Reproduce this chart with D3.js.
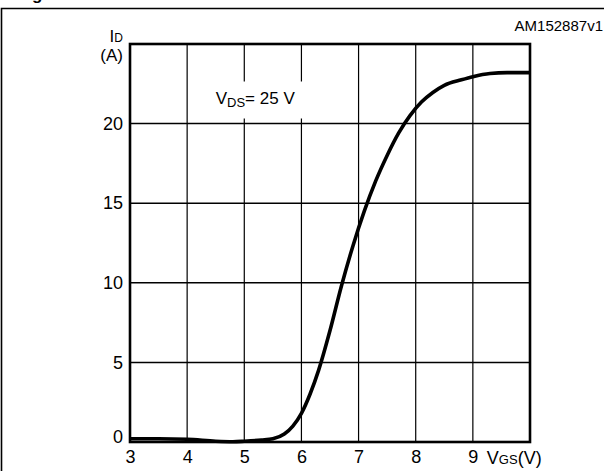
<!DOCTYPE html>
<html>
<head>
<meta charset="utf-8">
<script src="https://cdn.jsdelivr.net/npm/d3@7"></script>
<style>
  body { margin: 0; background: #fff; }
  svg { display: block; font-family: Arial, "Liberation Sans", sans-serif; }
</style>
</head>
<body>
<div id="chart"></div>
<script>

// transfer characteristic
var vgs = [3, 3.5, 4, 4.5, 4.8, 5.0, 5.3, 5.5, 5.7, 5.85, 6.0, 6.15, 6.3, 6.5, 6.7, 6.9, 7.1, 7.3, 7.5, 7.7, 7.9, 8.1, 8.3, 8.5, 8.8, 9.0, 9.3, 9.6, 10];
var id  = [0.2, 0.2, 0.17, 0.05, 0.02, 0.05, 0.12, 0.2, 0.5, 1.0, 1.8, 3.0, 4.5, 7.0, 9.8, 12.3, 14.5, 16.4, 18.0, 19.4, 20.5, 21.35, 21.95, 22.4, 22.75, 22.95, 23.15, 23.2, 23.2];

var xTicks = [3, 4, 5, 6, 7, 8, 9];
var yTicks = [0, 5, 10, 15, 20];
var xGrid = [4, 5, 6, 7, 8, 9];
var yGrid = [5, 10, 15, 20];

var W = 604, H = 471;
var margin = { top: 44, right: 74, bottom: 29, left: 130 },
	width = W - margin.left - margin.right,
	height = H - margin.top - margin.bottom;

var root = d3.select("#chart").append("svg")
	.attr("width", W)
	.attr("height", H);

// outer frame (runs off the right and bottom edge)
root.append("path")
	.attr("d", "M1.5," + (H + 5) + "V8.5H" + (W + 5))
	.attr("fill", "none")
	.attr("stroke", "#000")
	.attr("stroke-width", 1.6);

// clipped figure title, only the descender of the g shows
root.append("text")
	.attr("x", 17)
	.attr("y", -0.5)
	.style("font-weight", "bold")
	.style("font-size", "17px")
	.text("Figure 7. Transfer characteristics");

root.append("text")
	.attr("x", 603)
	.attr("y", 31)
	.attr("text-anchor", "end")
	.style("font-size", "15px")
	.text("AM152887v1");

var svg = root.append("g")
	.attr("transform", "translate(" + margin.left + "," + margin.top + ")");

var x = d3.scaleLinear().domain([3, 10]).range([0, width]);
var y = d3.scaleLinear().domain([0, 25]).range([height, 0]);

// grid
svg.selectAll(".vgrid").data(xGrid).enter().append("line")
	.attr("x1", function(d) { return x(d); })
	.attr("x2", function(d) { return x(d); })
	.attr("y1", 0).attr("y2", height)
	.attr("stroke", "#000").attr("stroke-width", 1.2);

svg.selectAll(".hgrid").data(yGrid).enter().append("line")
	.attr("y1", function(d) { return y(d); })
	.attr("y2", function(d) { return y(d); })
	.attr("x1", 0).attr("x2", width)
	.attr("stroke", "#000").attr("stroke-width", 1.5);

// condition note, on a white patch that hides the grid behind it
var note = svg.append("text")
	.attr("x", x(4.5))
	.attr("y", y(21.2))
	.style("font-size", "17px");
note.append("tspan").text("V");
note.append("tspan").style("font-size", "13px").attr("dy", 3).text("DS");
note.append("tspan").attr("dy", -3).text("= 25 V");

var bb = note.node().getBBox();
svg.insert("rect", "text")
	.attr("x", bb.x - 6)
	.attr("y", bb.y - 8)
	.attr("width", bb.width + 18)
	.attr("height", bb.height + 16)
	.attr("fill", "#fff");

// plot box
svg.append("rect")
	.attr("width", width).attr("height", height)
	.attr("fill", "none")
	.attr("stroke", "#000")
	.attr("stroke-width", 2.6);

// axes, labels only
var xAxis = svg.append("g")
	.attr("transform", "translate(0," + height + ")")
	.call(d3.axisBottom(x).tickValues(xTicks).tickSize(0).tickPadding(8).tickFormat(d3.format("d")));
xAxis.select(".domain").remove();
xAxis.selectAll("text").style("font-size", "18px").attr("font-family", null).attr("fill", "#000");

var yAxis = svg.append("g")
	.call(d3.axisLeft(y).tickValues(yTicks).tickSize(0).tickPadding(7).tickFormat(d3.format("d")));
yAxis.select(".domain").remove();
yAxis.selectAll("text").style("font-size", "18px").attr("font-family", null).attr("fill", "#000");
yAxis.selectAll(".tick").filter(function(d) { return d === 0; }).select("text").attr("dy", "0.05em");

// curve
var line = d3.line()
	.x(function(d, i) { return x(vgs[i]); })
	.y(function(d) { return y(d); })
	.curve(d3.curveMonotoneX);

svg.append("path")
	.datum(id)
	.attr("fill", "none")
	.attr("stroke", "#000")
	.attr("stroke-width", 3.6)
	.attr("stroke-linejoin", "round")
	.attr("d", line);

// axis titles
var yt = svg.append("text")
	.attr("x", -7)
	.attr("y", -2)
	.attr("text-anchor", "end")
	.style("font-size", "17px");
yt.append("tspan").text("I");
yt.append("tspan").style("font-size", "12px").text("D");

svg.append("text")
	.attr("x", -7)
	.attr("y", 17)
	.attr("text-anchor", "end")
	.style("font-size", "17px")
	.text("(A)");

var xt = svg.append("text")
	.attr("x", x(9) + 14)
	.attr("y", height + 22)
	.style("font-size", "18px");
xt.append("tspan").text("V");
xt.append("tspan").style("font-size", "13px").text("GS");
xt.append("tspan").text("(V)");

</script>
</body>
</html>
